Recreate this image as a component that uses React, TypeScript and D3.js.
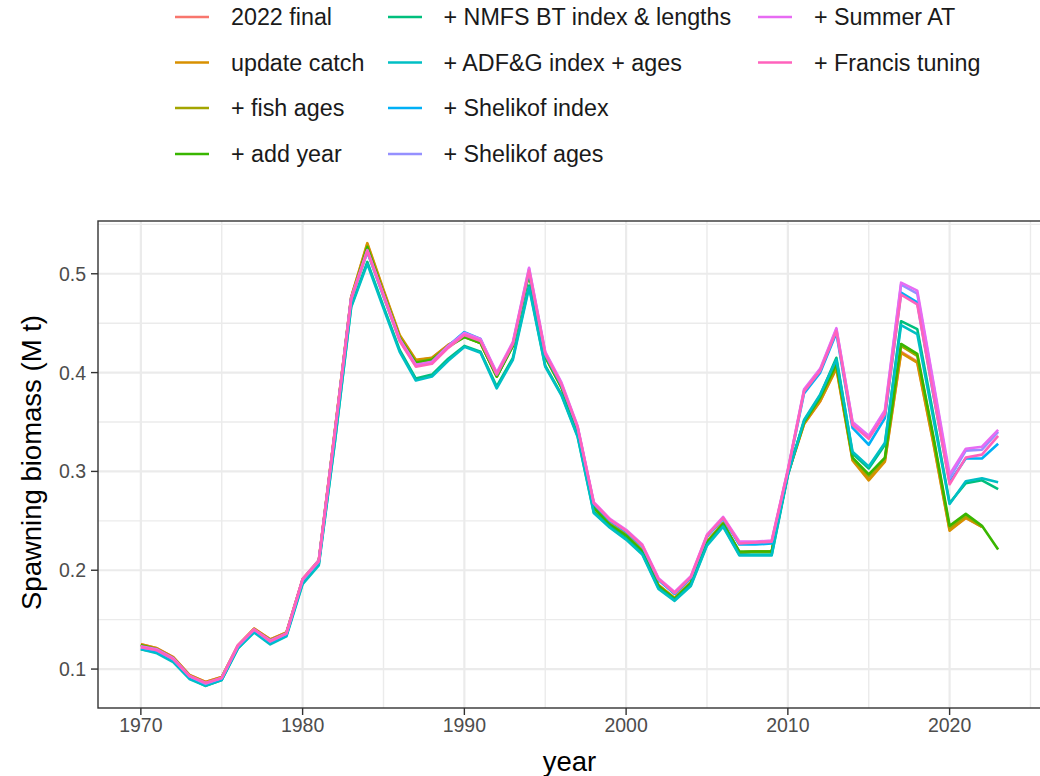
import React from "react";
import * as d3 from "d3";

// Spawning biomass (million t) by model run, 1970 onward
const startYear = 1970;

const final2022 = [
  0.125, 0.121, 0.112, 0.094, 0.087, 0.092, 0.124, 0.141, 0.130, 0.137,
  0.191, 0.210, 0.342, 0.476, 0.530, 0.483, 0.437, 0.412, 0.415, 0.428,
  0.437, 0.430, 0.396, 0.428, 0.502, 0.418, 0.386, 0.342, 0.265, 0.247,
  0.236, 0.220, 0.185, 0.172, 0.188, 0.229, 0.248, 0.218, 0.219, 0.219,
  0.297, 0.348, 0.371, 0.405, 0.312, 0.292, 0.311, 0.421, 0.411, 0.329,
  0.241, 0.253, 0.244,
];
const updateCatch = [
  0.125, 0.121, 0.112, 0.094, 0.087, 0.092, 0.124, 0.141, 0.130, 0.137,
  0.191, 0.210, 0.342, 0.476, 0.531, 0.484, 0.438, 0.413, 0.415, 0.428,
  0.437, 0.430, 0.396, 0.428, 0.502, 0.418, 0.386, 0.342, 0.265, 0.247,
  0.236, 0.220, 0.185, 0.172, 0.188, 0.229, 0.248, 0.218, 0.219, 0.219,
  0.297, 0.348, 0.371, 0.404, 0.311, 0.291, 0.310, 0.420, 0.410, 0.328,
  0.240, 0.253, 0.244,
];
const fishAges = [
  0.124, 0.120, 0.111, 0.093, 0.086, 0.091, 0.123, 0.140, 0.129, 0.136,
  0.190, 0.209, 0.341, 0.475, 0.528, 0.481, 0.436, 0.411, 0.414, 0.427,
  0.436, 0.430, 0.396, 0.427, 0.501, 0.416, 0.385, 0.341, 0.264, 0.246,
  0.235, 0.219, 0.184, 0.171, 0.187, 0.228, 0.247, 0.218, 0.219, 0.219,
  0.298, 0.349, 0.374, 0.407, 0.313, 0.295, 0.313, 0.427, 0.417, 0.333,
  0.243, 0.255, 0.244,
];
const addYear = [
  0.124, 0.120, 0.111, 0.093, 0.086, 0.091, 0.123, 0.140, 0.129, 0.136,
  0.190, 0.209, 0.340, 0.474, 0.527, 0.480, 0.435, 0.410, 0.413, 0.426,
  0.436, 0.430, 0.396, 0.427, 0.500, 0.416, 0.385, 0.341, 0.263, 0.246,
  0.235, 0.219, 0.184, 0.171, 0.187, 0.228, 0.247, 0.219, 0.219, 0.219,
  0.298, 0.350, 0.375, 0.409, 0.314, 0.297, 0.314, 0.429, 0.419, 0.335,
  0.245, 0.257, 0.245, 0.221,
];
const nmfsBt = [
  0.120, 0.117, 0.108, 0.091, 0.083, 0.089, 0.121, 0.138, 0.126, 0.134,
  0.187, 0.206, 0.331, 0.467, 0.512, 0.467, 0.423, 0.394, 0.398, 0.414,
  0.427, 0.421, 0.386, 0.415, 0.488, 0.407, 0.378, 0.336, 0.259, 0.244,
  0.232, 0.217, 0.182, 0.170, 0.185, 0.226, 0.245, 0.216, 0.216, 0.216,
  0.297, 0.351, 0.377, 0.415, 0.318, 0.303, 0.327, 0.452, 0.444, 0.357,
  0.268, 0.288, 0.291, 0.282,
];
const adfg = [
  0.120, 0.116, 0.107, 0.090, 0.083, 0.089, 0.121, 0.137, 0.125, 0.133,
  0.186, 0.205, 0.330, 0.466, 0.510, 0.465, 0.421, 0.392, 0.396, 0.412,
  0.426, 0.420, 0.384, 0.413, 0.486, 0.406, 0.377, 0.335, 0.258, 0.243,
  0.231, 0.216, 0.181, 0.169, 0.184, 0.225, 0.244, 0.215, 0.215, 0.215,
  0.296, 0.352, 0.378, 0.413, 0.320, 0.305, 0.329, 0.448, 0.439, 0.353,
  0.267, 0.290, 0.293, 0.289,
];
const shelikofIndex = [
  0.121, 0.118, 0.109, 0.092, 0.085, 0.090, 0.123, 0.139, 0.127, 0.135,
  0.190, 0.208, 0.339, 0.474, 0.522, 0.477, 0.433, 0.407, 0.410, 0.427,
  0.441, 0.434, 0.398, 0.429, 0.502, 0.418, 0.387, 0.344, 0.267, 0.250,
  0.239, 0.224, 0.190, 0.176, 0.192, 0.234, 0.252, 0.226, 0.226, 0.227,
  0.300, 0.379, 0.400, 0.440, 0.344, 0.327, 0.354, 0.481, 0.471, 0.377,
  0.289, 0.313, 0.313, 0.328,
];
const shelikofAges = [
  0.122, 0.119, 0.110, 0.093, 0.085, 0.091, 0.123, 0.140, 0.128, 0.136,
  0.190, 0.209, 0.340, 0.475, 0.523, 0.478, 0.433, 0.407, 0.410, 0.426,
  0.440, 0.433, 0.399, 0.430, 0.505, 0.420, 0.389, 0.345, 0.268, 0.251,
  0.240, 0.225, 0.191, 0.177, 0.193, 0.235, 0.253, 0.228, 0.228, 0.229,
  0.301, 0.382, 0.403, 0.444, 0.349, 0.335, 0.360, 0.489, 0.480, 0.388,
  0.293, 0.321, 0.322, 0.340,
];
const summerAT = [
  0.123, 0.120, 0.111, 0.093, 0.086, 0.091, 0.124, 0.140, 0.129, 0.136,
  0.191, 0.210, 0.341, 0.475, 0.524, 0.479, 0.434, 0.408, 0.411, 0.427,
  0.440, 0.434, 0.400, 0.431, 0.506, 0.421, 0.390, 0.346, 0.269, 0.252,
  0.241, 0.226, 0.192, 0.178, 0.194, 0.236, 0.254, 0.229, 0.229, 0.230,
  0.302, 0.383, 0.404, 0.445, 0.350, 0.336, 0.362, 0.491, 0.483, 0.390,
  0.297, 0.323, 0.325, 0.342,
];
const francisTuning = [
  0.122, 0.119, 0.110, 0.093, 0.086, 0.091, 0.124, 0.140, 0.128, 0.136,
  0.191, 0.209, 0.340, 0.474, 0.523, 0.478, 0.432, 0.406, 0.409, 0.425,
  0.438, 0.432, 0.398, 0.429, 0.503, 0.419, 0.388, 0.345, 0.268, 0.251,
  0.240, 0.225, 0.191, 0.177, 0.193, 0.235, 0.253, 0.227, 0.228, 0.229,
  0.301, 0.381, 0.402, 0.442, 0.347, 0.333, 0.358, 0.479, 0.469, 0.378,
  0.287, 0.314, 0.317, 0.336,
];

const seriesNames = [
  "2022 final",
  "update catch",
  "+ fish ages",
  "+ add year",
  "+ NMFS BT index & lengths",
  "+ ADF&G index + ages",
  "+ Shelikof index",
  "+ Shelikof ages",
  "+ Summer AT",
  "+ Francis tuning",
];
const seriesValues = [
  final2022,
  updateCatch,
  fishAges,
  addYear,
  nmfsBt,
  adfg,
  shelikofIndex,
  shelikofAges,
  summerAT,
  francisTuning,
];
const seriesColors = [
  "#F8766D",
  "#D89000",
  "#A3A500",
  "#39B600",
  "#00BF7D",
  "#00BFC4",
  "#00B0F6",
  "#9590FF",
  "#E76BF3",
  "#FF62BC",
];

const yTicks = [0.1, 0.2, 0.3, 0.4, 0.5];
const yMinor = [0.15, 0.25, 0.35, 0.45, 0.55];
const xTicks = [1970, 1980, 1990, 2000, 2010, 2020];
const xMinor = [1975, 1985, 1995, 2005, 2015, 2025];

const W = 1040;
const H = 776;
const panel = { left: 98, top: 221, right: 1041, bottom: 708 };
const FONT = "'Liberation Sans', Arial, Helvetica, sans-serif";

type Pt = { year: number; value: number };

export default function App() {
  const series = seriesNames.map((name, i) => ({
    name,
    color: seriesColors[i],
    points: seriesValues[i].map((v, j) => ({ year: startYear + j, value: v })) as Pt[],
  }));

  const allYears = series.flatMap((s) => s.points.map((p) => p.year));
  const allVals = series.flatMap((s) => s.points.map((p) => p.value));
  const [x0, x1] = d3.extent(allYears) as [number, number];
  const [v0, v1] = d3.extent(allVals) as [number, number];
  const xPad = (x1 - x0) * 0.05;
  const vPad = (v1 - v0) * 0.05;

  const x = d3
    .scaleLinear()
    .domain([x0 - xPad, x1 + xPad])
    .range([panel.left, panel.right]);
  const y = d3
    .scaleLinear()
    .domain([v0 - vPad, v1 + vPad])
    .range([panel.bottom, panel.top]);

  const line = d3
    .line<Pt>()
    .x((d) => x(d.year))
    .y((d) => y(d.value));

  const legendCols = [
    { keyX: 175, textX: 231 },
    { keyX: 388, textX: 443.5 },
    { keyX: 758, textX: 814 },
  ];
  const legendRowY = [17, 62.5, 108, 154];
  const keyLen = 34;

  return (
    <svg
      width={W}
      height={H}
      style={{ position: "absolute", left: 0, top: 0, display: "block", background: "#fff" }}
      fontFamily={FONT}
    >
      <rect x={0} y={0} width={W} height={H} fill="#fff" />

      {/* legend */}
      {series.map((s, i) => {
        const col = Math.floor(i / 4);
        const row = i % 4;
        const c = legendCols[col];
        const cy = legendRowY[row];
        return (
          <g key={s.name}>
            <line
              x1={c.keyX}
              x2={c.keyX + keyLen}
              y1={cy}
              y2={cy}
              stroke={s.color}
              strokeWidth={2.6}
            />
            <text x={c.textX} y={cy} dy="0.36em" fontSize={23.3} fill="#1a1a1a">
              {s.name}
            </text>
          </g>
        );
      })}

      <defs>
        <clipPath id="panel-clip">
          <rect
            x={panel.left}
            y={panel.top}
            width={panel.right - panel.left}
            height={panel.bottom - panel.top}
          />
        </clipPath>
      </defs>

      {/* grid */}
      <g clipPath="url(#panel-clip)">
        {yMinor.map((t) => (
          <line key={"ym" + t} x1={panel.left} x2={panel.right} y1={y(t)} y2={y(t)} stroke="#EBEBEB" strokeWidth={1.4} />
        ))}
        {xMinor.map((t) => (
          <line key={"xm" + t} x1={x(t)} x2={x(t)} y1={panel.top} y2={panel.bottom} stroke="#EBEBEB" strokeWidth={1.4} />
        ))}
        {yTicks.map((t) => (
          <line key={"yM" + t} x1={panel.left} x2={panel.right} y1={y(t)} y2={y(t)} stroke="#EBEBEB" strokeWidth={2.2} />
        ))}
        {xTicks.map((t) => (
          <line key={"xM" + t} x1={x(t)} x2={x(t)} y1={panel.top} y2={panel.bottom} stroke="#EBEBEB" strokeWidth={2.2} />
        ))}

        {series.map((s) => (
          <path
            key={s.name}
            d={line(s.points) || ""}
            fill="none"
            stroke={s.color}
            strokeWidth={2.6}
            strokeLinejoin="round"
            strokeLinecap="butt"
          />
        ))}
      </g>

      {/* panel border */}
      <rect
        x={panel.left}
        y={panel.top}
        width={panel.right - panel.left}
        height={panel.bottom - panel.top}
        fill="none"
        stroke="#333333"
        strokeWidth={1.4}
      />

      {/* y axis */}
      {yTicks.map((t) => (
        <g key={"yt" + t}>
          <line x1={panel.left - 7} x2={panel.left} y1={y(t)} y2={y(t)} stroke="#333333" strokeWidth={1.4} />
          <text x={panel.left - 12} y={y(t)} dy="0.36em" textAnchor="end" fontSize={19.5} fill="#4D4D4D">
            {d3.format(".1f")(t)}
          </text>
        </g>
      ))}

      {/* x axis */}
      {xTicks.map((t) => (
        <g key={"xt" + t}>
          <line x1={x(t)} x2={x(t)} y1={panel.bottom} y2={panel.bottom + 7} stroke="#333333" strokeWidth={1.4} />
          <text x={x(t)} y={panel.bottom + 17} dy="0.36em" textAnchor="middle" fontSize={19.5} fill="#4D4D4D">
            {t}
          </text>
        </g>
      ))}

      {/* axis titles */}
      <text
        x={(panel.left + panel.right) / 2}
        y={771}
        textAnchor="middle"
        fontSize={27.5}
        fill="#000"
      >
        year
      </text>
      <text
        transform={`translate(${31},${(panel.top + panel.bottom) / 2 - 2}) rotate(-90)`}
        textAnchor="middle"
        dy="0.36em"
        fontSize={27.5}
        fill="#000"
      >
        Spawning biomass (M t)
      </text>
    </svg>
  );
}
